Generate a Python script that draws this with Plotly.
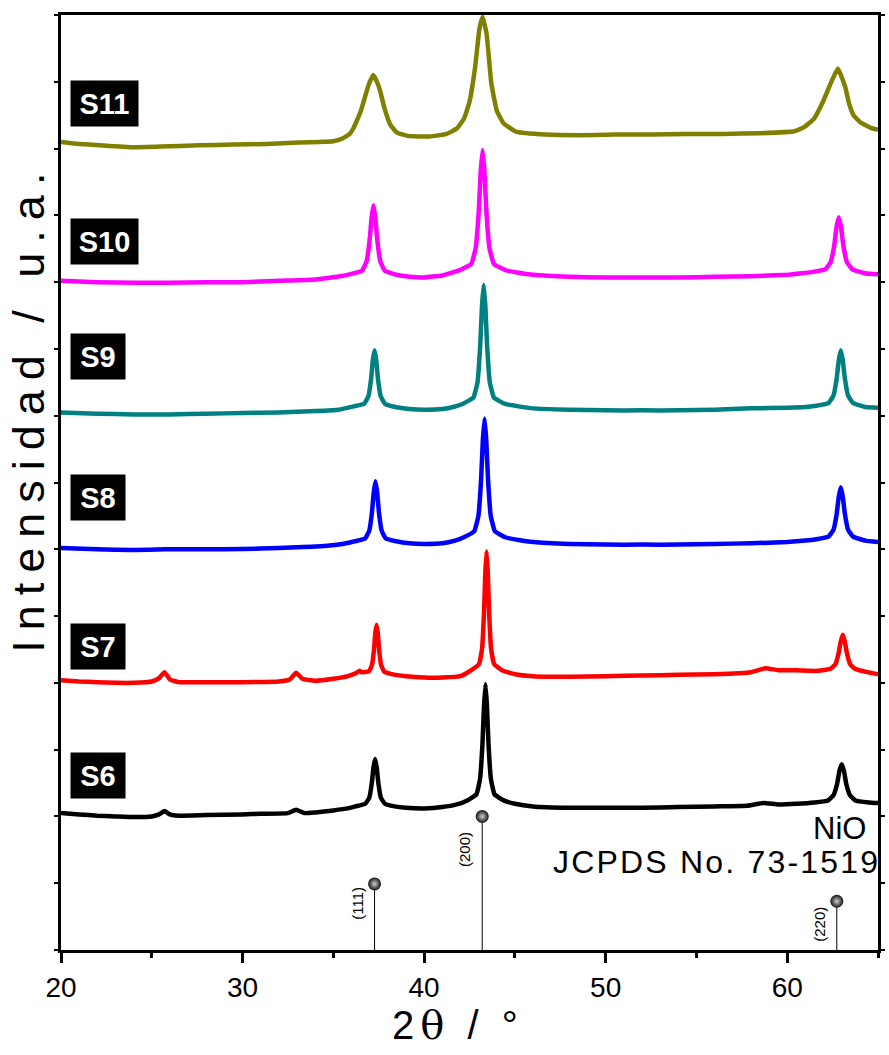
import plotly.graph_objects as go

# ---- XRD patterns (2theta in degrees, intensity in stacked arbitrary units) ----
s6_x = [20, 21, 22, 23, 24, 25, 25.4, 25.7, 26.0, 26.5, 28, 30, 31, 32.5, 32.95, 33.4, 34, 35, 35.8,
        36.22, 36.76, 36.98, 37.12, 37.21, 37.30, 37.39, 37.48, 37.62, 37.84, 38.38,
        39, 40, 41, 41.8,
        42.38, 42.88, 43.08, 43.215, 43.30, 43.38, 43.46, 43.545, 43.68, 43.88, 44.38,
        45, 46, 48, 50, 52, 54, 56, 57.8, 58.7, 59.5, 60.5,
        61.5, 62.25, 62.55, 62.75, 62.875, 63.0, 63.125, 63.25, 63.45, 63.75, 64.5, 65]
s6_y = [2.05, 2.03, 2.01, 2.0, 1.99, 2.0, 2.03, 2.08, 2.03, 2.01, 2.02, 2.03, 2.04, 2.05, 2.1, 2.05, 2.06, 2.09, 2.12,
        2.15, 2.19, 2.28, 2.50, 2.73, 2.86, 2.73, 2.50, 2.28, 2.19, 2.15,
        2.13, 2.12, 2.14, 2.18,
        2.24, 2.33, 2.56, 3.09, 3.66, 3.98, 3.66, 3.09, 2.56, 2.33, 2.24,
        2.19, 2.15, 2.13, 2.13, 2.13, 2.14, 2.15, 2.16, 2.2, 2.18, 2.19,
        2.21, 2.24, 2.32, 2.49, 2.68, 2.78, 2.68, 2.49, 2.32, 2.24, 2.21, 2.2]

s7_x = [20, 21, 22, 23, 24, 25, 25.4, 25.7, 26.0, 26.5, 28, 30, 32, 32.6, 32.95, 33.3, 34, 35, 35.8, 36.2, 36.45,
        36.54, 36.96, 37.13, 37.24, 37.31, 37.38, 37.45, 37.52, 37.63, 37.80, 38.22,
        39, 40, 41, 42,
        42.60, 43.02, 43.19, 43.30, 43.37, 43.44, 43.51, 43.58, 43.69, 43.86, 44.28,
        45, 46, 48, 50, 52, 54, 56, 58, 58.8, 59.5, 60.5, 61.2,
        61.71, 62.385, 62.655, 62.835, 62.95, 63.06, 63.17, 63.285, 63.465, 63.735, 64.41, 65]
s7_y = [4.04, 4.02, 4.01, 4.0, 4.0, 4.02, 4.07, 4.16, 4.05, 4.01, 4.01, 4.01, 4.02, 4.05, 4.15, 4.06, 4.03, 4.06, 4.1, 4.14, 4.18,
        4.16, 4.17, 4.27, 4.50, 4.74, 4.87, 4.74, 4.50, 4.27, 4.17, 4.13,
        4.1, 4.08, 4.08, 4.1,
        4.19, 4.28, 4.51, 5.06, 5.64, 5.97, 5.64, 5.06, 4.51, 4.28, 4.19,
        4.13, 4.1, 4.09, 4.1, 4.11, 4.12, 4.13, 4.16, 4.22, 4.19, 4.19, 4.18,
        4.18, 4.21, 4.28, 4.45, 4.62, 4.72, 4.62, 4.45, 4.28, 4.21, 4.16, 4.13]

s8_x = [20, 22, 24, 25.7, 27, 29, 31, 33, 34.5, 35.5,
        36.18, 36.75, 36.98, 37.13, 37.225, 37.32, 37.415, 37.51, 37.66, 37.89, 38.46,
        39.2, 40, 41, 41.7,
        42.19, 42.76, 42.99, 43.14, 43.235, 43.33, 43.425, 43.52, 43.67, 43.90, 44.47,
        45.2, 46, 48, 50, 52, 54, 56, 58, 60, 61,
        61.60, 62.275, 62.545, 62.725, 62.84, 62.95, 63.06, 63.175, 63.355, 63.625, 64.30, 65]
s8_y = [6.02, 6.0, 5.99, 6.0, 6.0, 6.0, 6.01, 6.03, 6.05, 6.08,
        6.12, 6.16, 6.28, 6.56, 6.85, 7.02, 6.85, 6.56, 6.28, 6.16, 6.12,
        6.09, 6.08, 6.09, 6.13,
        6.18, 6.27, 6.50, 7.05, 7.63, 7.96, 7.63, 7.05, 6.50, 6.27, 6.18,
        6.14, 6.11, 6.08, 6.07, 6.07, 6.07, 6.08, 6.09, 6.11, 6.13,
        6.15, 6.19, 6.29, 6.53, 6.79, 6.93, 6.79, 6.53, 6.29, 6.19, 6.13, 6.11]

s9_x = [20, 22, 24, 26, 28, 30, 32, 34, 35.3,
        36.13, 36.70, 36.93, 37.08, 37.175, 37.27, 37.365, 37.46, 37.61, 37.84, 38.41,
        39.2, 40, 41, 41.6,
        42.14, 42.71, 42.94, 43.09, 43.185, 43.28, 43.375, 43.47, 43.62, 43.85, 44.42,
        45.2, 46, 48, 50, 52, 54, 56, 58, 60, 61,
        61.60, 62.275, 62.545, 62.725, 62.84, 62.95, 63.06, 63.175, 63.355, 63.625, 64.30, 65]
s9_y = [8.05, 8.03, 8.02, 8.02, 8.03, 8.04, 8.05, 8.07, 8.09,
        8.14, 8.18, 8.29, 8.55, 8.83, 8.98, 8.83, 8.55, 8.29, 8.18, 8.13,
        8.1, 8.09, 8.1, 8.13,
        8.18, 8.27, 8.50, 9.05, 9.63, 9.96, 9.63, 9.05, 8.50, 8.27, 8.18,
        8.14, 8.11, 8.09, 8.08, 8.08, 8.08, 8.09, 8.11, 8.12, 8.13,
        8.15, 8.19, 8.30, 8.56, 8.83, 8.98, 8.83, 8.56, 8.30, 8.19, 8.13, 8.12]

s10_x = [20, 22, 24, 26, 28, 30, 32, 34, 35.2,
         35.95, 36.58, 36.83, 37.0, 37.105, 37.21, 37.315, 37.42, 37.59, 37.84, 38.47,
         39.2, 40, 41,
         41.96, 42.59, 42.84, 43.01, 43.115, 43.22, 43.325, 43.43, 43.60, 43.85, 44.48,
         45.2, 46, 48, 50, 52, 54, 56, 58, 60, 60.7,
         61.34, 62.09, 62.39, 62.59, 62.715, 62.84, 62.965, 63.09, 63.29, 63.59, 64.34, 65]
s10_y = [10.02, 10.0, 9.99, 9.99, 10.0, 10.0, 10.02, 10.04, 10.08,
         10.12, 10.17, 10.31, 10.63, 10.96, 11.15, 10.96, 10.63, 10.31, 10.17, 10.11,
         10.08, 10.07, 10.1,
         10.18, 10.27, 10.51, 11.06, 11.65, 11.98, 11.65, 11.06, 10.51, 10.27, 10.18,
         10.14, 10.11, 10.08, 10.07, 10.07, 10.07, 10.08, 10.09, 10.11, 10.13,
         10.15, 10.19, 10.30, 10.55, 10.82, 10.97, 10.82, 10.55, 10.30, 10.19, 10.13, 10.12]

s11_x = [20, 21, 22.1, 23.9, 25.5, 27.6, 29.5, 31.3, 33.1, 34.3, 35.0, 35.5, 35.9, 36.1, 36.5, 36.75, 36.95,
         37.2, 37.45, 37.6, 37.8, 38.15, 38.5, 39.1, 40.3, 41.25, 41.8, 42.2, 42.5, 42.8, 43.05, 43.22,
         43.44, 43.7, 44.0, 44.37, 45.1, 46.7, 48.5, 50.5, 52.5, 54.5, 56.5, 58.5, 60.4, 60.93, 61.48,
         62.0, 62.4, 62.79, 63.2, 63.4, 63.65, 64.04, 64.6, 65]
s11_y = [12.1, 12.07, 12.05, 12.02, 12.03, 12.05, 12.06, 12.07, 12.09, 12.1, 12.11, 12.15, 12.22, 12.3, 12.55, 12.78, 12.96,
         13.1, 12.97, 12.84, 12.62, 12.35, 12.24, 12.19, 12.18, 12.22, 12.3, 12.45, 12.7, 13.2, 13.8, 13.97,
         13.72, 12.98, 12.57, 12.38, 12.25, 12.21, 12.2, 12.21, 12.21, 12.22, 12.22, 12.23, 12.26, 12.32, 12.45,
         12.72, 12.98, 13.2, 12.92, 12.68, 12.5, 12.39, 12.31, 12.28]

samples = ["S6", "S7", "S8", "S9", "S10", "S11"]
colors = ["#000000", "#ff0000", "#0000ff", "#008080", "#ff00ff", "#808000"]
xs = [s6_x, s7_x, s8_x, s9_x, s10_x, s11_x]
ys = [s6_y, s7_y, s8_y, s9_y, s10_y, s11_y]
label_y = [2.62, 4.55, 6.78, 8.89, 10.61, 12.67]

# ---- NiO reference pattern, JCPDS No. 73-1519 ----
ref_pos = [37.27, 43.2, 62.73]
ref_height = [0.99, 2.0, 0.73]
ref_hkl = ["(111)", "(200)", "(220)"]
ref_label_y = [0.70, 1.50, 0.39]

FONT = "Liberation Sans, Arial"

fig = go.Figure()

for name, c, x, y in zip(samples, colors, xs, ys):
    fig.add_trace(go.Scatter(x=x, y=y, mode="lines", name=name,
                             line=dict(color=c, width=4.5, shape="spline", smoothing=0.35)))

stick_x, stick_y = [], []
for p, h in zip(ref_pos, ref_height):
    stick_x += [p, p, None]
    stick_y += [0, h, None]
fig.add_trace(go.Scatter(x=stick_x, y=stick_y, mode="lines",
                         line=dict(color="black", width=1), hoverinfo="skip"))
fig.add_trace(go.Scatter(x=ref_pos, y=ref_height, mode="markers",
                         marker=dict(size=13, color="#111111",
                                     gradient=dict(type="radial", color="#d0d0d0"),
                                     line=dict(width=0))))

annotations = []
for name, ly in zip(samples, label_y):
    annotations.append(dict(x=20.5, y=ly, xref="x", yref="y", xanchor="left", yanchor="middle",
                            text="<b>%s</b>" % name, showarrow=False,
                            font=dict(family=FONT, size=29, color="white"),
                            bgcolor="black", width=67 if len(name) == 3 else 54, height=45,
                            borderpad=0, align="center"))
for p, hkl, ly in zip(ref_pos, ref_hkl, ref_label_y):
    annotations.append(dict(x=p, y=ly, xref="x", yref="y", xshift=-17, text=hkl, textangle=-90,
                            showarrow=False, xanchor="center", yanchor="middle",
                            font=dict(family=FONT, size=15, color="black")))
annotations.append(dict(x=0.986, y=(950 - 828) / 935, xref="paper", yref="paper", text="NiO",
                        showarrow=False, xanchor="right", yanchor="middle", borderpad=0,
                        font=dict(family=FONT, size=31, color="black")))
annotations.append(dict(x=1.004, y=(950 - 862) / 935, xref="paper", yref="paper",
                        text="<span style='letter-spacing:2.2px'>JCPDS No. 73-1519</span>",
                        showarrow=False, xanchor="right", yanchor="middle", borderpad=0,
                        font=dict(family=FONT, size=32, color="black")))
annotations.append(dict(x=-0.039, y=0.58, xref="paper", yref="paper",
                        text="<span style='letter-spacing:10px'>Intensidad / u.a.</span>",
                        textangle=-90, showarrow=False, xanchor="center", yanchor="middle",
                        font=dict(family=FONT, size=45, color="black")))
annotations.append(dict(x=0.486, y=-0.08, xref="paper", yref="paper",
                        text="<span style='letter-spacing:6px'>2<span style=\"font-family:'DejaVu Serif'\">θ</span> / °</span>",
                        showarrow=False, xanchor="center", yanchor="middle",
                        font=dict(family=FONT, size=40, color="black")))

fig.update_layout(
    width=889, height=1055,
    margin=dict(l=61, r=4, t=15, b=105),
    paper_bgcolor="white", plot_bgcolor="white",
    showlegend=False,
    annotations=annotations,
    xaxis=dict(range=[20, 65], tickmode="linear", tick0=20, dtick=10,
               ticks="outside", ticklen=10, tickwidth=3, tickcolor="black",
               minor=dict(dtick=5, ticks="outside", ticklen=5, tickwidth=3, tickcolor="black"),
               showline=True, linewidth=3, linecolor="black", mirror=True,
               showgrid=False, zeroline=False,
               tickfont=dict(family=FONT, size=28, color="black")),
    yaxis=dict(range=[0, 14], tickmode="linear", tick0=0, dtick=1,
               ticks="outside", ticklen=4, tickwidth=2, tickcolor="black",
               showticklabels=False,
               showline=True, linewidth=3, linecolor="black", mirror="ticks",
               showgrid=False, zeroline=False),
)

fig.write_html("out.html")
